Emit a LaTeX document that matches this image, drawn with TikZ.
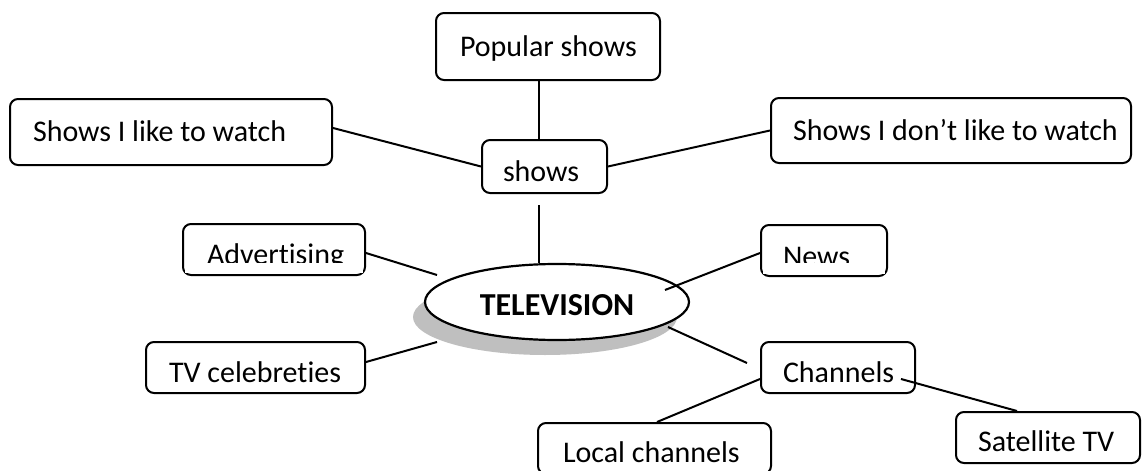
\documentclass[tikz,border=0pt]{standalone}
\usepackage{fontspec}
\setmainfont{Carlito}[Ligatures=NoCommon]
\usetikzlibrary{shapes.geometric}
\newcommand\bt[3]{\makebox[#1][l]{\raisebox{-#2}{#3}}}
\tikzset{
  box/.style={draw, line width=1pt, rounded corners=4pt, fill=white, inner ysep=0pt,
    text height=9.6pt, text depth=0pt, font=\fontsize{15pt}{18pt}\selectfont},
  link/.style={draw, line width=1pt},
  hub/.style={ellipse, draw, line width=1.1pt, fill=white, inner sep=0pt,
    minimum width=132pt, minimum height=38pt, text height=10.3pt, text depth=0pt,
    font=\fontsize{16pt}{19pt}\selectfont\bfseries},
  shade/.style={fill=black!25}
}
\begin{document}
\begin{tikzpicture}[x=0.5pt,y=-0.5pt]
\clip (0,0) rectangle (1142,471);
\fill[white] (0,0) rectangle (1142,471);
% central ellipse with shadow
\fill[shade] (545,317) ellipse [x radius=66pt, y radius=19pt];
\node[hub] (tv) at (557,302) {\raisebox{-1.5pt}{TELEVISION}};
% boxes
\node[box, inner xsep=12pt, minimum width=112pt, minimum height=33.5pt] (pop) at (548,46.5) {\bt{88pt}{0pt}{Popular shows}};
\node[box, inner xsep=11.5pt, minimum width=161pt, minimum height=33pt] (like) at (171,132) {\bt{138pt}{0pt}{Shows I like to watch}};
\node[box, inner xsep=11pt, minimum width=180pt, minimum height=32.5pt] (dislike) at (951,130.5) {\bt{158pt}{0.25pt}{Shows I don’t like to watch}};
\node[box, inner xsep=10.5pt, minimum width=62.5pt, minimum height=26.5pt] (shows) at (544.5,166.5) {\bt{41.5pt}{2.75pt}{shows}};
\node[box, inner xsep=12pt, minimum width=91pt, minimum height=25.5pt] (adv) at (274,249.5) {\bt{67pt}{2.75pt}{Advertising}};
\node[box, inner xsep=11pt, minimum width=63pt, minimum height=25.5pt] (news) at (824,250.5) {\bt{41pt}{3.25pt}{News}};
\node[box, inner xsep=11.5pt, minimum width=109.5pt, minimum height=25.5pt] (tvc) at (255.5,367.5) {\bt{86.5pt}{2.75pt}{TV celebreties}};
\node[box, inner xsep=11pt, minimum width=77pt, minimum height=25.5pt] (chan) at (838,367.5) {\bt{55pt}{2.75pt}{Channels}};
\node[box, inner xsep=12.5pt, minimum width=116.5pt, minimum height=25.5pt] (local) at (654.5,448.5) {\bt{91.5pt}{2.25pt}{Local channels}};
\node[box, inner xsep=11pt, minimum width=92pt, minimum height=25.5pt] (sat) at (1048,437.5) {\bt{70pt}{2.25pt}{Satellite TV}};
% clipped text bottoms
\fill[white] (185,263) rectangle (363,273);
\fill[white] (763,263) rectangle (885,274);
% connectors
\draw[link] ([xshift=-4.5pt]pop.south) -- ([xshift=-2.75pt]shows.north);
\draw[link] ([yshift=2pt]like.east) -- (shows.west);
\draw[link] (shows.east) -- (dislike.west);
\draw[link] ([xshift=-2.75pt,yshift=-5.5pt]shows.south) -- ([xshift=-9pt]tv.north);
\draw[link] ([yshift=-1.75pt]adv.east) -- ([xshift=-60pt,yshift=13.5pt]tv.center);
\draw[link] ([yshift=-1.25pt]news.west) -- ([xshift=54pt,yshift=6pt]tv.center);
\draw[link] ([yshift=2.75pt]tvc.east) -- ([xshift=-60pt,yshift=-20pt]tv.center);
\draw[link] ([xshift=55.5pt,yshift=-12.5pt]tv.center) -- ([xshift=-6.5pt,yshift=2.25pt]chan.west);
\draw[link] ([yshift=-5.75pt]chan.west) -- ([xshift=1.25pt]local.north);
\draw[link] ([xshift=31.5pt,yshift=-5.75pt]chan.center) -- ([xshift=-15.5pt]sat.north);
\end{tikzpicture}
\end{document}
